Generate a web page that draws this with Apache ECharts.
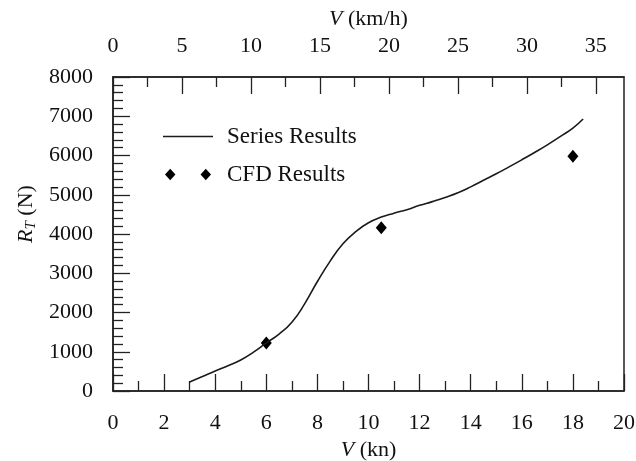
<!DOCTYPE html>
<html>
<head>
<meta charset="utf-8">
<script src="https://cdn.jsdelivr.net/npm/echarts@6/dist/echarts.min.js"></script>
<style>
  html, body { margin: 0; padding: 0; background: #fff; }
  #main { width: 636px; height: 461px; }
</style>
</head>
<body>
<div id="main"></div>
<script>
var dom = document.getElementById("main");
var myChart = echarts.init(dom);

// Series Results curve (V in kn, R_T in N)
var seriesV = [3.0, 3.5, 4.0, 4.5, 5.0, 5.5, 6.0, 6.5, 7.0, 7.5, 8.0, 8.5, 9.0, 9.5, 10.0, 10.5,
               11.0, 11.5, 12.0, 12.5, 13.0, 13.5, 14.0, 14.5, 15.0, 15.5, 16.0, 16.5, 17.0, 17.5, 18.0, 18.4];
var seriesR = [230, 370, 510, 645, 790, 990, 1225, 1450, 1750, 2220, 2790, 3310, 3750, 4060, 4285, 4430,
               4530, 4620, 4730, 4825, 4930, 5050, 5200, 5370, 5535, 5710, 5890, 6075, 6270, 6480, 6700, 6930];
// CFD Results
var cfdV = [6, 10.5, 18];
var cfdR = [1225, 4160, 5980];
// top axis (km/h) ticks
var kmhLabels = [0, 5, 10, 15, 20, 25, 30, 35];
var kmhMinor = [2.5, 7.5, 12.5, 17.5, 22.5, 27.5, 32.5];
var KN_TO_KMH = 1.852;

var FONT = "Liberation Serif";
var FS = 22;
var LFS = 23;
var INK = '#111';

function pairs(xs, ys) {
    return xs.map(function (x, i) { return [x, ys[i]]; });
}

option = null;
option = {
    animation: false,
    backgroundColor: '#fff',
    textStyle: { fontFamily: FONT },
    grid: { left: 113, right: 12, top: 77, bottom: 70, outerBoundsMode: 'none',
            show: true, borderColor: '#222', borderWidth: 1.5 },
    legend: [
        {
            data: [{ name: 'Series Results', icon: 'rect' }],
            left: 158, top: 120,
            itemWidth: 50, itemHeight: 1.6,
            textStyle: { fontFamily: FONT, fontSize: LFS, color: INK, padding: [0, 0, 0, 9] }
        },
        {
            data: [{ name: 'CFD Results', icon: 'path://M0,5.5 L5,0 L10,5.5 L5,11 Z M34,5.5 L39,0 L44,5.5 L39,11 Z' }],
            left: 160, top: 158,
            itemWidth: 46, itemHeight: 12,
            textStyle: { fontFamily: FONT, fontSize: LFS, color: INK, padding: [0, 0, 0, 11] }
        }
    ],
    xAxis: [
        {
            type: 'value', position: 'bottom', min: 0, max: 20, interval: 2,
            name: '{i|V} (kn)', nameLocation: 'middle', nameGap: 47,
            nameTextStyle: { fontFamily: FONT, fontSize: FS, color: INK,
                rich: { i: { fontFamily: FONT, fontSize: FS, fontStyle: 'italic', color: INK } } },
            axisLine: { lineStyle: { color: '#222', width: 1.5 } },
            axisTick: { inside: true, length: 17, lineStyle: { color: '#222', width: 1.3 } },
            minorTick: { show: true, splitNumber: 2, length: 10, lineStyle: { color: '#222', width: 1.3 } },
            axisLabel: { fontFamily: FONT, fontSize: FS, color: INK, margin: 21 },
            splitLine: { show: false }
        },
        {
            type: 'value', position: 'top', min: 0, max: 20 * KN_TO_KMH,
            name: '{i|V} (km/h)', nameLocation: 'middle', nameGap: 43,
            nameTextStyle: { fontFamily: FONT, fontSize: FS, color: INK,
                rich: { i: { fontFamily: FONT, fontSize: FS, fontStyle: 'italic', color: INK } } },
            axisLine: { lineStyle: { color: '#222', width: 1.5 } },
            axisTick: { inside: true, length: 17, customValues: kmhLabels, lineStyle: { color: '#222', width: 1.3 } },
            axisLabel: { fontFamily: FONT, fontSize: FS, color: INK, margin: 20, customValues: kmhLabels },
            splitLine: { show: false }
        },
        {
            type: 'value', position: 'top', min: 0, max: 20 * KN_TO_KMH,
            axisLine: { show: false },
            axisTick: { inside: true, length: 10, customValues: kmhMinor, lineStyle: { color: '#222', width: 1.3 } },
            axisLabel: { show: false },
            splitLine: { show: false }
        }
    ],
    yAxis: [
        {
            type: 'value', min: 0, max: 8000, interval: 1000,
            name: '{i|R}{sub|T} (N)', nameLocation: 'middle', nameGap: 74, nameRotate: 90,
            nameTextStyle: { fontFamily: FONT, fontSize: FS, color: INK, padding: [0, 0, 0, 40],
                rich: {
                    i: { fontFamily: FONT, fontSize: FS, fontStyle: 'italic', color: INK },
                    sub: { fontFamily: FONT, fontSize: 15, fontStyle: 'italic', color: INK, verticalAlign: 'bottom', padding: [9, 0, 0, 0] }
                } },
            axisLine: { lineStyle: { color: '#222', width: 1.5 } },
            axisTick: { inside: true, length: 17, lineStyle: { color: '#222', width: 1.3 } },
            minorTick: { show: true, splitNumber: 5, length: 10, lineStyle: { color: '#222', width: 1.3 } },
            axisLabel: { fontFamily: FONT, fontSize: FS, color: INK, margin: 20,
                formatter: function (v) { return String(v); } },
            splitLine: { show: false }
        }
    ],
    series: [
        {
            name: 'Series Results',
            type: 'line',
            xAxisIndex: 0,
            data: pairs(seriesV, seriesR),
            smooth: 0.5,
            symbol: 'none',
            lineStyle: { color: '#1a1a1a', width: 1.6 },
            itemStyle: { color: '#1a1a1a' }
        },
        {
            name: 'CFD Results',
            type: 'scatter',
            xAxisIndex: 0,
            data: pairs(cfdV, cfdR),
            symbol: 'diamond',
            symbolSize: [11, 13],
            itemStyle: { color: '#000', opacity: 1 }
        }
    ]
};

if (option && typeof option === "object") {
    myChart.setOption(option, true);
}
</script>
</body>
</html>
